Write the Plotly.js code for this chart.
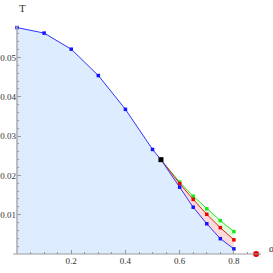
<!DOCTYPE html>
<html><head><meta charset="utf-8">
<script src="https://cdn.plot.ly/plotly-3.0.1.min.js"></script>
<style>html,body{margin:0;padding:0;background:#fff;}#c{width:273px;height:273px;}</style>
</head><body><div id="c"></div>
<script>
const blueX = [0, 0.1, 0.2, 0.3, 0.4, 0.5, 0.531, 0.6, 0.65, 0.7, 0.75, 0.8];
const blueY = [0.0576, 0.0562, 0.0521, 0.0454, 0.0368, 0.0266, 0.0240, 0.0170, 0.0119, 0.0077, 0.0039, 0.0013];
const redX = [0.531, 0.6, 0.65, 0.7, 0.75, 0.8];
const redY = [0.0240, 0.0179, 0.0139, 0.0101, 0.0067, 0.0036];
const greenX = [0.531, 0.6, 0.65, 0.7, 0.75, 0.8];
const greenY = [0.0240, 0.0183, 0.0147, 0.0115, 0.0085, 0.0057];
const blackPt = {x: [0.531], y: [0.0240]};
const redPt = {x: [0.882], y: [0]};
const xTicks = [0.2, 0.4, 0.6, 0.8];
const xTickText = ['0.2', '0.4', '0.6', '0.8'];
const yTicks = [0.01, 0.02, 0.03, 0.04, 0.05];
const yTickText = ['0.01', '0.02', '0.03', '0.04', '0.05'];

const mk = (c) => ({color: c, size: 3.5, symbol: 'square'});
const traces = [
  {x: greenX, y: greenY, mode: 'lines+markers', fill: 'tozeroy', fillcolor: 'rgb(222,255,222)',
   line: {color: 'rgb(40,230,40)', width: 1}, marker: mk('rgb(30,230,30)'), cliponaxis: false},
  {x: redX, y: redY, mode: 'lines+markers', fill: 'tozeroy', fillcolor: 'rgb(255,218,218)',
   line: {color: 'rgb(240,30,30)', width: 1}, marker: mk('rgb(240,0,0)'), cliponaxis: false},
  {x: blueX, y: blueY, mode: 'lines+markers', fill: 'tozeroy', fillcolor: 'rgb(221,236,255)',
   line: {color: 'rgb(50,50,255)', width: 1}, marker: mk('rgb(20,20,255)'), cliponaxis: false},
  {x: blackPt.x, y: blackPt.y, mode: 'markers', marker: {color: '#000', size: 5, symbol: 'square'}, cliponaxis: false},
  {x: redPt.x, y: redPt.y, mode: 'markers', marker: {color: 'rgb(230,0,0)', size: 6, symbol: 'circle'}, cliponaxis: false}
];
const fontT = {family: 'Liberation Serif, Times New Roman, serif', size: 9, color: '#333'};
const layout = {
  width: 273, height: 273,
  margin: {l: 17, r: 12, t: 26, b: 19, pad: 0},
  paper_bgcolor: '#fff', plot_bgcolor: 'rgba(0,0,0,0)',
  showlegend: false,
  xaxis: {range: [0, 0.9], showgrid: false, zeroline: false, showline: false,
    tickmode: 'array', tickvals: xTicks, ticktext: xTickText,
    ticks: 'inside', ticklen: 4, tickcolor: '#999', tickwidth: 1, tickfont: fontT,
    minor: {tickmode: 'linear', tick0: 0, dtick: 0.05, ticks: 'inside', ticklen: 2, tickcolor: '#999'}},
  yaxis: {range: [0, 0.058], showgrid: false, zeroline: false, showline: false,
    tickmode: 'array', tickvals: yTicks, ticktext: yTickText,
    ticks: 'inside', ticklen: 4, tickcolor: '#999', tickwidth: 1, tickfont: fontT,
    minor: {tickmode: 'linear', tick0: 0, dtick: 0.002, ticks: 'inside', ticklen: 2, tickcolor: '#999'}},
  shapes: [
    {type: 'line', xref: 'paper', yref: 'paper', x0: -0.016, x1: 1.0, y0: 0, y1: 0, line: {color: '#999', width: 1}},
    {type: 'line', xref: 'paper', yref: 'paper', x0: 0, x1: 0, y0: 0, y1: 1, line: {color: '#aaa', width: 1.5}}
  ],
  annotations: [
    {text: 'T', xref: 'paper', yref: 'paper', x: 0, y: 1, yanchor: 'middle', yshift: 18, showarrow: false, font: {family: 'Liberation Serif, serif', size: 11, color: '#333'}},
    {text: '<i>α</i>', xref: 'paper', yref: 'paper', x: 1, y: 0, xshift: 6, yshift: -2, showarrow: false, xanchor: 'left', font: {family: 'Liberation Serif, serif', size: 10, color: '#333'}}
  ]
};
Plotly.newPlot('c', traces, layout, {displayModeBar: false, staticPlot: true});
</script></body></html>
